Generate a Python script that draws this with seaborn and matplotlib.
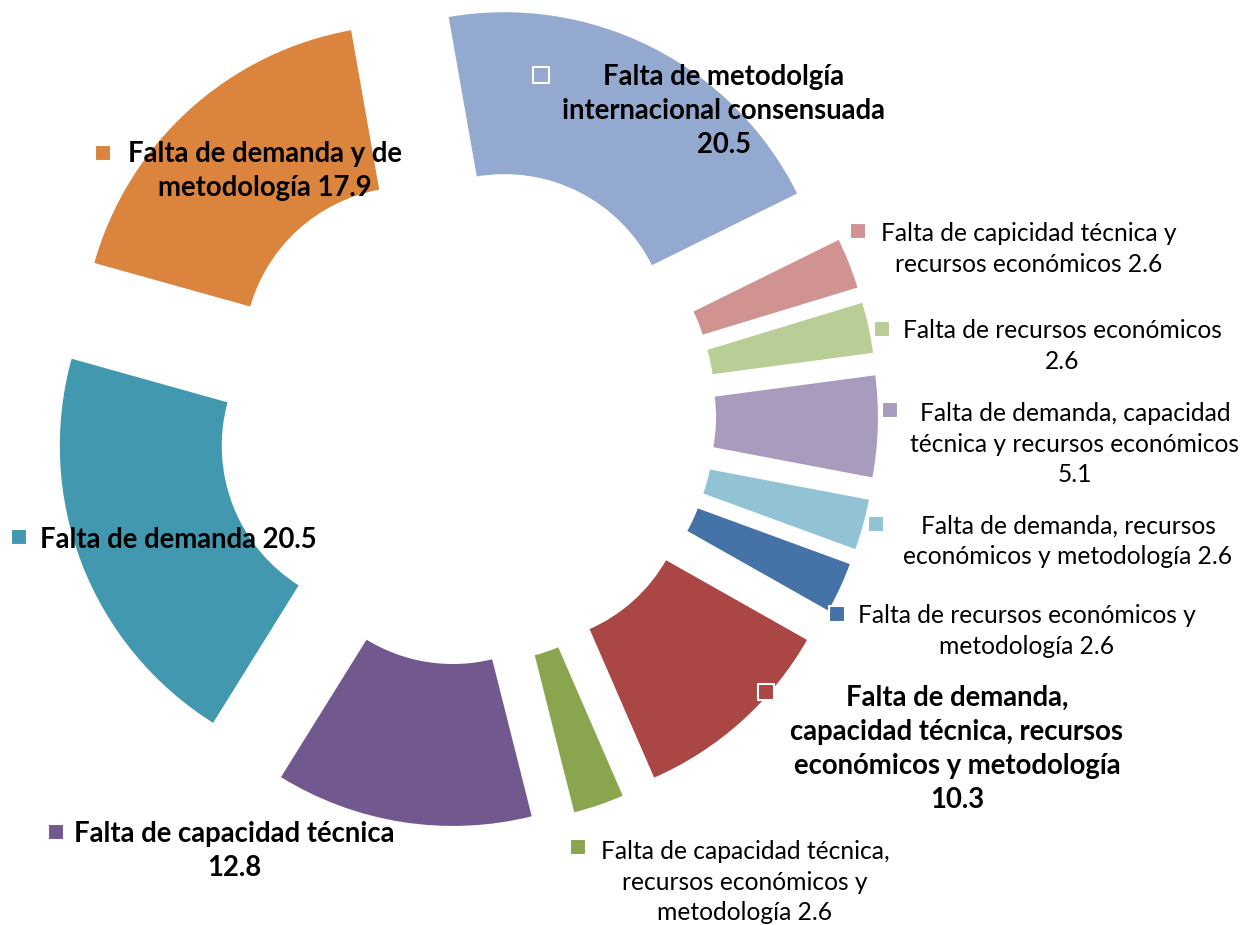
import matplotlib
matplotlib.use("Agg")
import matplotlib.pyplot as plt
import seaborn as sns
import pandas as pd

# data (clockwise from the top)
categories = [
    "Falta de metodolgía internacional consensuada",
    "Falta de capicidad técnica y recursos económicos",
    "Falta de recursos económicos",
    "Falta de demanda, capacidad técnica y recursos económicos",
    "Falta de demanda, recursos económicos y metodología",
    "Falta de recursos económicos y metodología",
    "Falta de demanda, capacidad técnica, recursos económicos y metodología",
    "Falta de capacidad técnica, recursos económicos y metodología",
    "Falta de capacidad técnica",
    "Falta de demanda",
    "Falta de demanda y de metodología",
]
values = [20.5, 2.6, 2.6, 5.1, 2.6, 2.6, 10.3, 2.6, 12.8, 20.5, 17.9]
label_fmt = [
    "Falta de metodolgía\ninternacional consensuada\n{}",
    "Falta de capicidad técnica y\nrecursos económicos {}",
    "Falta de recursos económicos\n{}",
    "Falta de demanda, capacidad\ntécnica y recursos económicos\n{}",
    "Falta de demanda, recursos\neconómicos y metodología {}",
    "Falta de recursos económicos y\nmetodología {}",
    "Falta de demanda,\ncapacidad técnica, recursos\neconómicos y metodología\n{}",
    "Falta de capacidad técnica,\nrecursos económicos y\nmetodología {}",
    "Falta de capacidad técnica\n{}",
    "Falta de demanda {}",
    "Falta de demanda y de\nmetodología {}",
]
bold = [True, False, False, False, False, False, True, False, True, True, True]
colors = ["#93A9CF", "#D19392", "#B9CD96", "#A99BBD", "#92C3D4", "#4572A7",
          "#AA4643", "#89A54E", "#71588F", "#4198AF", "#DB843D"]

# layout (pixel coordinates, y measured from the top)
W, H = 1247, 925
center = (466, 415)
text_pos = [(724, 111), (1029, 249), (1062, 346), (1075, 444), (1068, 541),
            (1027, 631), (957, 749), (745, 882), (234, 851), (178, 540), (265, 171)]
key_pos = [(541, 75), (858, 231), (882, 329), (890, 410), (876, 524),
           (837, 614), (766, 692), (578, 847), (56, 832), (19, 537), (103, 153)]

sns.set_style("white")
plt.rcParams['font.family'] = ['Lato', 'DejaVu Sans']

fig = plt.figure(figsize=(W / 100, H / 100), dpi=100)
ax = fig.add_axes([0, 0, 1, 1])

ax.pie(values, colors=colors, startangle=100, counterclock=False,
       radius=328, center=(center[0], H - center[1]), explode=[85] * len(values),
       wedgeprops=dict(width=164, edgecolor="white", linewidth=1.5))

keys = pd.DataFrame({
    "x": [p[0] for p in key_pos],
    "y": [H - p[1] for p in key_pos],
    "cat": categories,
})
sns.scatterplot(data=keys, x="x", y="y", hue="cat", palette=dict(zip(categories, colors)),
                marker="s", s=140, edgecolor="white", linewidth=1.5, legend=False, ax=ax)

for fmt, v, b, (tx, ty) in zip(label_fmt, values, bold, text_pos):
    ax.text(tx, H - ty, fmt.format(v), ha="center", va="center", multialignment="center",
            fontsize=19.8 if b else 17.7, fontweight="bold" if b else "normal",
            linespacing=1.38, color="black")

ax.set_xlim(0, W)
ax.set_ylim(0, H)
ax.set_aspect("equal")
ax.axis("off")
fig.savefig("out.png", dpi=100)
